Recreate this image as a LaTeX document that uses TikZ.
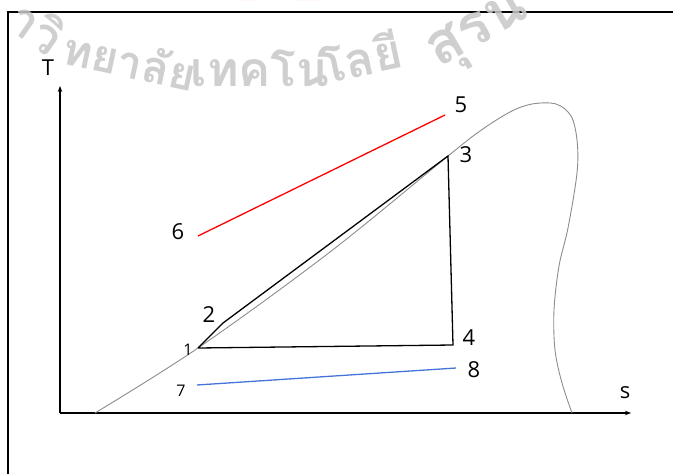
\documentclass[tikz,border=0pt]{standalone}
\usepackage{fontspec}
\setmainfont{Open Sans}
\newfontfamily\thaifont[Script=Thai]{Loma}
\usetikzlibrary{arrows.meta}
\begin{document}
\begin{tikzpicture}[x=1pt,y=1pt,
  lbl/.style={font=\fontsize{22}{24}\selectfont, inner sep=0pt},
  lblsmall/.style={font=\fontsize{16}{18}\selectfont, inner sep=0pt},
  cyc/.style={line width=1.3pt, black},
  axisline/.style={line width=1.8pt, -{Stealth[length=6pt,width=4.5pt]}},
  dome/.style={black!45, line width=0.9pt},
  framel/.style={line width=1.8pt, black},
  wm/.style={text=black!22, opacity=0.85, font=\thaifont\bfseries\fontsize{48}{48}\selectfont, inner sep=0pt},
  logo/.style={fill=red!30, draw=none, opacity=0.8}]
\useasboundingbox (0,0) rectangle (673,-474);
% frame
\coordinate (fbl) at (8,-474);
\coordinate (ftl) at (8,-12);
\coordinate (ftr) at (673,-12);
\draw[framel] (fbl) -- (ftl) -- (ftr);
% logo fragments
\fill[logo] (238,0) -- (256,0) -- (249,9) -- cycle;
\fill[logo] (298,0) -- (320,0) -- (309,9) -- cycle;
% watermark
\node[wm, rotate=-35] (w1) at (38,-26) {าวิ};
\node[wm, rotate=-12, font=\thaifont\bfseries\fontsize{45}{45}\selectfont] (w2) at (130,-60) {ทยาลัย};
\node[wm, rotate=0] (w3) at (260,-68) {เทคโน};
\node[wm, rotate=12] (w4) at (360,-56) {โลยี};
\node[wm, rotate=30, font=\thaifont\bfseries\fontsize{58}{58}\selectfont] (w5) at (480,-34) {สุรน};
% axes
\coordinate (o) at (60,-413);
\coordinate (ytop) at (60,-86);
\coordinate (xend) at (631,-413);
\draw[axisline] (o) -- (ytop);
\draw[axisline] (o) -- (xend);
\node[lbl] (lT) at (48,-68) {T};
\node[lbl] (ls) at (625,-393) {s};
% saturation dome
\draw[dome] plot[smooth, tension=0.55] coordinates {
  (95,-413) (198,-348) (330,-252) (448,-156) (480,-131) (510,-112)
  (532,-104) (556,-104) (571,-116) (577,-140) (577,-173) (568,-228)
  (559,-266) (554,-310) (555,-350) (562,-383) (572,-413)};
% cycle points
\coordinate (p1) at (198,-348);
\coordinate (p2) at (223,-323);
\coordinate (p3) at (448,-156);
\coordinate (p4) at (453,-345);
\draw[cyc] (p1) -- (p2) -- (p3) -- (p4) -- (p1);
% hot and cold streams
\coordinate (p5) at (445,-115);
\coordinate (p6) at (198,-236);
\coordinate (p7) at (197,-385);
\coordinate (p8) at (456,-368);
\draw[red, line width=1.3pt] (p6) -- (p5);
\draw[color={rgb,255:red,70;green,115;blue,215}, line width=1.3pt] (p7) -- (p8);
% labels
\node[lblsmall] (l1) at (188,-350) {1};
\node[lbl] (l2) at (209,-315) {2};
\node[lbl] (l3) at (466,-155) {3};
\node[lbl] (l4) at (469,-338) {4};
\node[lbl] (l5) at (461,-105) {5};
\node[lbl] (l6) at (178,-232) {6};
\node[lblsmall] (l7) at (181,-391) {7};
\node[lbl] (l8) at (474,-370) {8};
\end{tikzpicture}
\end{document}
